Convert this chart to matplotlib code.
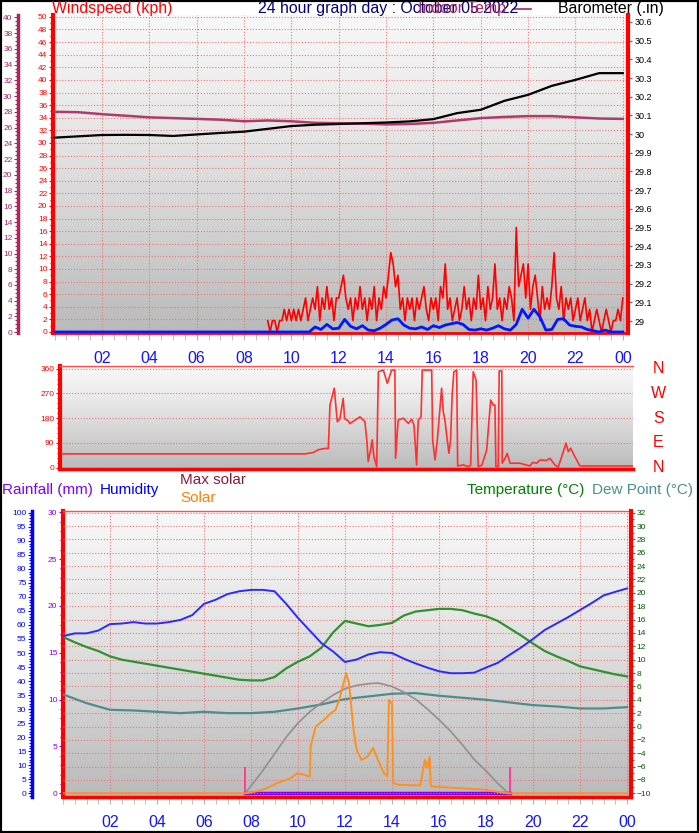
import numpy as np
import matplotlib
matplotlib.use('Agg')
import matplotlib.pyplot as plt
from matplotlib.colors import LinearSegmentedColormap
from matplotlib.ticker import MultipleLocator, FixedLocator, FuncFormatter
from matplotlib.patches import Rectangle

plt.rcParams['font.family'] = ['Liberation Sans', 'DejaVu Sans']

W, H = 699, 833

#%% data
hours = np.arange(0, 25)            # hourly readings
half_hours = np.arange(0, 24.01, 0.5)
hour_labels = ['02', '04', '06', '08', '10', '12', '14', '16', '18', '20', '22', '00']

# barometer (.in), hourly
baro = [29.981, 29.988, 29.995, 29.996, 29.995, 29.990, 29.998, 30.006, 30.013,
        30.028, 30.043, 30.050, 30.054, 30.058, 30.062, 30.068, 30.080, 30.112,
        30.130, 30.178, 30.210, 30.258, 30.290, 30.326, 30.326]
# indoor temp (C), hourly
indoor = [28.0, 27.95, 27.7, 27.5, 27.3, 27.2, 27.1, 27.0, 26.8, 26.9, 26.8, 26.6,
          26.55, 26.5, 26.4, 26.45, 26.6, 26.9, 27.2, 27.35, 27.45, 27.45, 27.3,
          27.15, 27.1]

# wind gust (kph), 6 min samples from 09:00
gust = [1.8, 0, 1.8, 1.8, 0, 1.8, 1.8, 3.6, 1.8, 3.6,
        1.8, 3.6, 1.8, 3.6, 1.8, 3.6, 5.4, 1.8, 3.6, 5.4,
        3.6, 7.2, 1.8, 5.4, 3.6, 7.2, 3.6, 5.4, 1.8, 5.4,
        5.4, 7.2, 9.0, 5.4, 3.6, 5.4, 1.8, 5.4, 3.6, 7.2,
        3.6, 5.4, 1.8, 5.4, 3.6, 7.2, 1.8, 5.4, 3.6, 7.2,
        5.4, 9.0, 12.6, 10.8, 7.2, 9.0, 3.6, 5.4, 1.8, 5.4,
        3.6, 5.4, 1.8, 5.4, 3.6, 5.4, 7.2, 3.6, 1.8, 5.4,
        3.6, 5.4, 1.8, 7.2, 5.4, 10.8, 3.6, 5.4, 1.8, 3.6,
        5.4, 1.8, 3.6, 7.2, 3.6, 5.4, 1.8, 5.4, 3.6, 9.0,
        3.6, 5.4, 1.8, 7.2, 3.6, 5.4, 10.8, 3.6, 5.4, 1.8,
        5.4, 3.6, 7.2, 5.4, 1.8, 16.6, 7.2, 9.0, 10.8, 5.4,
        10.8, 3.6, 7.2, 9.0, 5.4, 1.8, 7.2, 3.6, 5.4, 3.6,
        7.2, 12.6, 5.4, 3.6, 7.2, 1.8, 5.4, 3.6, 5.4, 1.8,
        3.6, 5.4, 1.8, 3.6, 5.4, 1.8, 3.6, 0, 1.8, 3.6,
        1.8, 0, 1.8, 3.6, 1.8, 0, 1.8, 1.8, 3.6, 1.8,
        5.4]
gust_hours = 9 + np.arange(len(gust)) / 10

# average wind (kph), 15 min samples from 10:45
wind = [0, 0.8, 0.4, 1.2, 0.5,
        0.6, 2.0, 0.9, 0.5,
        1.0, 0.3, 0.2, 0.6,
        1.2, 1.9, 2.1, 1.1,
        0.6, 0.5, 0.8, 0.4,
        1.0, 0.7, 1.1, 1.3,
        1.5, 1.2, 0.4, 0.3,
        0.5, 0.3, 0.6, 1.0,
        0.5, 0.3, 1.2, 3.6,
        2.2, 3.6, 2.4, 0.3,
        0.4, 2.0, 2.1, 1.1,
        0.9, 0.8, 0.4, 0.2,
        0.0, 0.3, 0.0, 0.0,
        0.0]
wind_hours = 10.75 + np.arange(len(wind)) / 4

# wind direction (deg)
dir_hours = [0.0, 10.3, 10.65, 10.86, 11.15, 11.29, 11.36, 11.54, 11.67, 11.78, 11.92,
             11.98, 12.14, 12.2, 12.63, 12.84, 12.92, 12.98, 13.08, 13.15, 13.22,
             13.34, 13.41, 13.62, 13.79, 13.97, 14.11, 14.14, 14.25, 14.47, 14.68,
             14.82, 14.92, 15.03, 15.1, 15.22, 15.27, 15.67, 15.71, 15.81, 15.91,
             15.99, 16.09, 16.16, 16.23, 16.33, 16.4, 16.47, 16.54, 16.61, 16.73,
             16.77, 17.0, 17.22, 17.32, 17.43, 17.55, 17.59, 17.64, 17.79, 17.89,
             18.0, 18.1, 18.17, 18.28, 18.35, 18.39, 18.49, 18.53, 18.64, 18.66,
             18.78, 18.87, 18.99, 19.41, 19.83, 19.95, 20.12, 20.26, 20.54, 20.68,
             20.89, 21.03, 21.18, 21.36, 21.46, 21.56, 21.7, 21.95, 24.2]
dir_deg = [50, 50, 55, 65, 70, 70, 228, 289, 167, 178, 252,
           178, 170, 160, 185, 167, 101, 22, 64, 101, 40,
           4, 349, 355, 307, 355, 355, 34, 173, 180, 161,
           176, 155, 10, 173, 185, 355, 355, 101, 28, 101,
           185, 289, 204, 173, 101, 52, 101, 270, 349, 355,
           6, 10, 4, 8, 349, 319, 185, 4, 8, 34,
           64, 173, 246, 228, 228, 4, 4, 352, 352, 16,
           34, 52, 16, 16, 6, 19, 16, 28, 26, 34,
           10, 2, 40, 89, 58, 71, 46, 6, 6]
compass = ['N', 'E', 'S', 'W', 'N']

# humidity (%), half hourly
humidity = [56.0, 57.0, 57.0, 58.0, 60.3, 60.5, 61.0, 60.5, 60.5, 61.0, 61.8, 63.5,
            67.5, 69.0, 71.0, 72.0, 72.5, 72.5, 72.0, 67.5, 62.5, 58.0, 53.5, 50.5,
            46.8, 47.7, 49.5, 50.3, 50.0, 48.0, 46.3, 44.8, 43.5, 42.8, 42.8, 43.0,
            44.8, 46.5, 49.3, 52.0, 55.0, 58.2, 60.5, 62.8, 65.3, 67.8, 70.5, 71.8,
            73.0]
# temperature (C), half hourly
temperature = [13.4, 12.6, 11.9, 11.3, 10.5, 10.0, 9.7, 9.4, 9.1, 8.8, 8.5, 8.2,
               7.9, 7.6, 7.3, 7.0, 6.9, 6.9, 7.4, 8.7, 9.7, 10.5, 11.8, 14.1,
               15.8, 15.4, 15.0, 15.2, 15.5, 16.6, 17.2, 17.4, 17.6, 17.6, 17.4, 16.9,
               16.5, 15.8, 14.7, 13.6, 12.4, 11.3, 10.5, 9.8, 9.0, 8.6, 8.2, 7.8,
               7.5]
# dew point (C), hourly
dewpoint = [4.8, 3.5, 2.5, 2.4, 2.2, 2.0, 2.2, 2.0, 2.0, 2.2, 2.7, 3.3, 4.1,
            4.5, 4.9, 5.0, 4.6, 4.3, 4.0, 3.6, 3.2, 3.0, 2.7, 2.7, 2.9]

# solar (W/m2)
solar_hours = [0, 7.8, 8.3, 8.67, 9.1, 9.4, 9.68, 9.97, 10.25, 10.5, 10.54, 10.75,
               11.1, 11.4, 11.6, 11.75, 11.9, 12.05, 12.17, 12.24, 12.38, 12.5,
               12.7, 12.95, 13.2, 13.4, 13.66, 13.8, 13.87, 14.0, 14.05, 14.3,
               15.2, 15.4, 15.5, 15.6, 15.65, 15.7, 16.5, 17.8, 18.5, 18.9, 24]
solar = [0, 0, 8, 18, 36, 45, 53, 71, 66, 59, 166, 237,
         261, 285, 297, 332, 380, 427, 392, 332, 214, 154,
         119, 130, 161, 119, 71, 60, 332, 320, 36, 30,
         28, 119, 90, 130, 28, 24, 20, 14, 5, 0, 0]
maxsolar_hours = [7.75, 8.5, 9.0, 9.5, 10.0, 10.5, 11.0, 11.5, 12.0, 12.5, 13.0,
                  13.35, 13.5, 14.0, 14.5, 15.0, 15.5, 16.0, 16.5, 17.0, 17.5,
                  18.0, 18.5, 18.95]
maxsolar = [0, 80, 140, 200, 250, 290, 322, 350, 372, 384, 390,
            392, 391, 380, 360, 335, 300, 262, 220, 172, 120,
            80, 35, 0]
sun_times = [7.75, 19.0]      # sunrise, sunset
rain_hours = [7.75, 19.0]
rain = [0, 0]

#%% helpers
fig = plt.figure(figsize=(W / 100, H / 100), dpi=100)
bg = LinearSegmentedColormap.from_list('bg', ['#bababa', '#d2d2d2', '#e8e8e8', '#f8f8f8'])
GRID = dict(color='#f07878', ls=(0, (1, 1.6)), lw=0.8)


def panel(l, t, r, b):
    return fig.add_axes([l / W, 1 - b / H, (r - l) / W, (b - t) / H])


def shade(ax):
    ax.imshow(np.linspace(0, 1, 256).reshape(-1, 1), cmap=bg, aspect='auto',
              origin='lower', extent=(0, 1, 0, 1), transform=ax.transAxes,
              zorder=0, interpolation='bilinear')


def only_spine(ax, side, color, lw):
    for k, s in ax.spines.items():
        s.set_visible(k == side)
    ax.spines[side].set_color(color)
    ax.spines[side].set_linewidth(lw)


def ftext(x, y, s, color, size=11.4, **kw):
    fig.text(x / W, 1 - y / H, s, color=color, fontsize=size, va='center', **kw)


red = '#ff0000'
maroon = '#a8285c'

#%% top panel: wind, barometer, indoor temp
ax_w = panel(53, 15, 628, 333)
shade(ax_w)
ax_w.plot([0, 9], [0, 0], color=red, lw=1.5, zorder=3)
ax_w.plot(gust_hours, gust, color=red, lw=1.2, zorder=3)
ax_w.plot(np.r_[0, wind_hours], np.r_[0, wind], color='#0018ff', lw=2, zorder=4)
ax_w.set_xlim(-0.07, 24.22)
ax_w.set_ylim(-0.16, 50.3)
ax_w.yaxis.set_major_locator(MultipleLocator(2))
ax_w.yaxis.set_minor_locator(MultipleLocator(1))
ax_w.xaxis.set_major_locator(FixedLocator(range(2, 25, 2)))
ax_w.xaxis.set_minor_locator(MultipleLocator(0.5))
ax_w.set_xticklabels(hour_labels)
ax_w.grid(True, which='major', **GRID)
ax_w.tick_params(axis='y', which='both', colors=red, labelsize=6, width=0.8, pad=1)
ax_w.tick_params(axis='y', which='major', length=3)
ax_w.tick_params(axis='y', which='minor', length=2)
ax_w.tick_params(axis='x', which='both', color='#b4b4b4', labelcolor='#1414ff',
                 labelsize=11.5, length=5, pad=8)
for k in ('top', 'right'):
    ax_w.spines[k].set_visible(False)
ax_w.spines['left'].set_color(red)
ax_w.spines['left'].set_linewidth(3)
ax_w.spines['bottom'].set_color(red)
ax_w.spines['bottom'].set_linewidth(2)

ax_t = ax_w.twinx()
only_spine(ax_t, 'left', maroon, 2.5)
ax_t.spines['left'].set_position(('axes', (18 - 53) / 575))
ax_t.yaxis.set_ticks_position('left')
ax_t.plot(hours, indoor, color='#b03a6a', lw=1.8)
ax_t.set_ylim(-0.1, 40.3)
ax_t.yaxis.set_major_locator(MultipleLocator(2))
ax_t.yaxis.set_minor_locator(MultipleLocator(0.5))
ax_t.tick_params(axis='y', which='both', colors=maroon, labelsize=6, width=0.8, pad=1)
ax_t.tick_params(axis='y', which='major', length=3)
ax_t.tick_params(axis='y', which='minor', length=2)

ax_b = ax_w.twinx()
only_spine(ax_b, 'right', red, 3)
ax_b.plot(hours, baro, color='black', lw=1.6)
ax_b.set_ylim(28.936, 30.637)
ax_b.yaxis.set_major_locator(MultipleLocator(0.1))
ax_b.yaxis.set_major_formatter(FuncFormatter(lambda v, p: f'{round(v, 1):g}'))
ax_b.tick_params(axis='y', color='#707070', labelcolor='black', labelsize=6.5,
                 length=3, width=1, pad=2)

ftext(52, 8, 'Windspeed (kph)', red)
ftext(258, 8, '24 hour graph day : October 05 2022', '#000080')
ftext(418, 8, 'Indoor Temp', maroon)
fig.add_artist(plt.Line2D([514 / W, 531 / W], [1 - 9 / H, 1 - 9 / H], color=maroon, lw=1.2))
ftext(558, 8, 'Barometer (.in)', 'black')

#%% middle panel: wind direction
ax_d = panel(60, 366, 633, 469)
shade(ax_d)
ax_d.plot(dir_hours, dir_deg, color='#ff3030', lw=1.2, zorder=3)
ax_d.set_xlim(-0.08, 24.2)
ax_d.set_ylim(-5, 370)
ax_d.set_yticks([0, 90, 180, 270, 360])
ax_d.yaxis.set_minor_locator(MultipleLocator(18))
ax_d.set_xticks([])
ax_d.grid(True, axis='y', which='major', **GRID)
ax_d.tick_params(axis='y', which='both', colors=red, labelsize=6, width=0.8, pad=1)
ax_d.tick_params(axis='y', which='major', length=3)
ax_d.tick_params(axis='y', which='minor', length=2)
ax_d.spines['right'].set_visible(False)
ax_d.spines['left'].set_color(red)
ax_d.spines['left'].set_linewidth(3)
ax_d.spines['bottom'].set_color(red)
ax_d.spines['bottom'].set_linewidth(2.5)
ax_d.spines['top'].set_color('#ff5050')
ax_d.spines['top'].set_linewidth(1)
for deg, name in zip([0, 90, 180, 270, 360], compass):
    ax_d.text(1.044, deg, name, color=red, fontsize=11.5, ha='center', va='center',
              transform=ax_d.get_yaxis_transform())

#%% bottom panel: rain, humidity, temperature, solar
ax_r = panel(63, 511, 631, 797)
shade(ax_r)
ax_r.set_xlim(0, 24.17)
ax_r.set_ylim(-0.4, 30.14)
ax_r.xaxis.set_major_locator(FixedLocator(range(2, 25, 2)))
ax_r.xaxis.set_minor_locator(MultipleLocator(0.5))
ax_r.set_xticklabels(hour_labels)
ax_r.yaxis.set_major_locator(MultipleLocator(5))
ax_r.yaxis.set_minor_locator(MultipleLocator(1))
ax_r.grid(True, axis='x', which='major', **GRID)
ax_r.tick_params(axis='y', which='both', colors='#8000ff', labelsize=6, width=0.8, pad=1)
ax_r.tick_params(axis='y', which='major', length=3)
ax_r.tick_params(axis='y', which='minor', length=2)
ax_r.tick_params(axis='x', which='both', color='#b4b4b4', labelcolor='#1414ff',
                 labelsize=11.5, length=5, pad=8)
ax_r.spines['left'].set_color(red)
ax_r.spines['left'].set_linewidth(3)
ax_r.spines['bottom'].set_color(red)
ax_r.spines['bottom'].set_linewidth(2.5)
ax_r.spines['top'].set_color('#ff5050')
ax_r.spines['top'].set_linewidth(1)
ax_r.spines['right'].set_visible(False)
ax_r.vlines(sun_times, 0, 2.8, color='#ff3399', lw=1.3, zorder=3)

ax_tc = ax_r.twinx()
only_spine(ax_tc, 'right', red, 3)
ax_tc.set_ylim(-10.55, 32.25)
ax_tc.yaxis.set_major_locator(MultipleLocator(2))
ax_tc.yaxis.set_minor_locator(MultipleLocator(1))
ax_tc.grid(True, axis='y', which='major', **GRID)
ax_tc.tick_params(axis='y', which='both', color='#1a9a1a', labelcolor='#005a00',
                  labelsize=6, width=0.8, pad=1)
ax_tc.tick_params(axis='y', which='major', length=3)
ax_tc.tick_params(axis='y', which='minor', length=2)
ax_tc.plot(hours, dewpoint, color='#4f8c8c', lw=1.6)
ax_tc.plot(half_hours, temperature, color='#2e922e', lw=1.6)

ax_h = ax_r.twinx()
only_spine(ax_h, 'left', '#0000ff', 2.5)
ax_h.spines['left'].set_position(('axes', (32 - 63) / 568))
ax_h.yaxis.set_ticks_position('left')
ax_h.set_ylim(-1.3, 100.6)
ax_h.yaxis.set_major_locator(MultipleLocator(5))
ax_h.yaxis.set_minor_locator(MultipleLocator(1))
ax_h.tick_params(axis='y', which='both', colors='#0000ff', labelsize=6, width=0.8, pad=1)
ax_h.tick_params(axis='y', which='major', length=3)
ax_h.tick_params(axis='y', which='minor', length=2)
ax_h.plot(half_hours, humidity, color='#2a2aff', lw=1.4)

ax_s = ax_r.twinx()
only_spine(ax_s, 'right', red, 0)
ax_s.spines['right'].set_visible(False)
ax_s.set_yticks([])
ax_s.set_ylim(-13.3, 1004.7)
ax_s.plot(maxsolar_hours, maxsolar, color='#909090', lw=1.2)
ax_s.plot(solar_hours, solar, color='#ff9020', lw=1.4)
ax_r.plot(rain_hours, rain, color='#8000ff', lw=2.5, zorder=4)

ftext(2, 490, 'Rainfall (mm)', '#8000ff', 11)
ftext(100, 490, 'Humidity', '#0000ff', 11)
ftext(180, 480, 'Max solar', '#8b1a3a', 11)
ftext(180, 498, 'Solar', '#ff8000', 11)
ftext(467, 490, 'Temperature (°C)', '#008000', 11)
ftext(592, 490, 'Dew Point (°C)', '#4a9090', 11)

fig.add_artist(Rectangle((0, 0), 1, 1, transform=fig.transFigure, fill=False,
                         edgecolor='black', lw=3))
fig.savefig('out.png', dpi=100)
